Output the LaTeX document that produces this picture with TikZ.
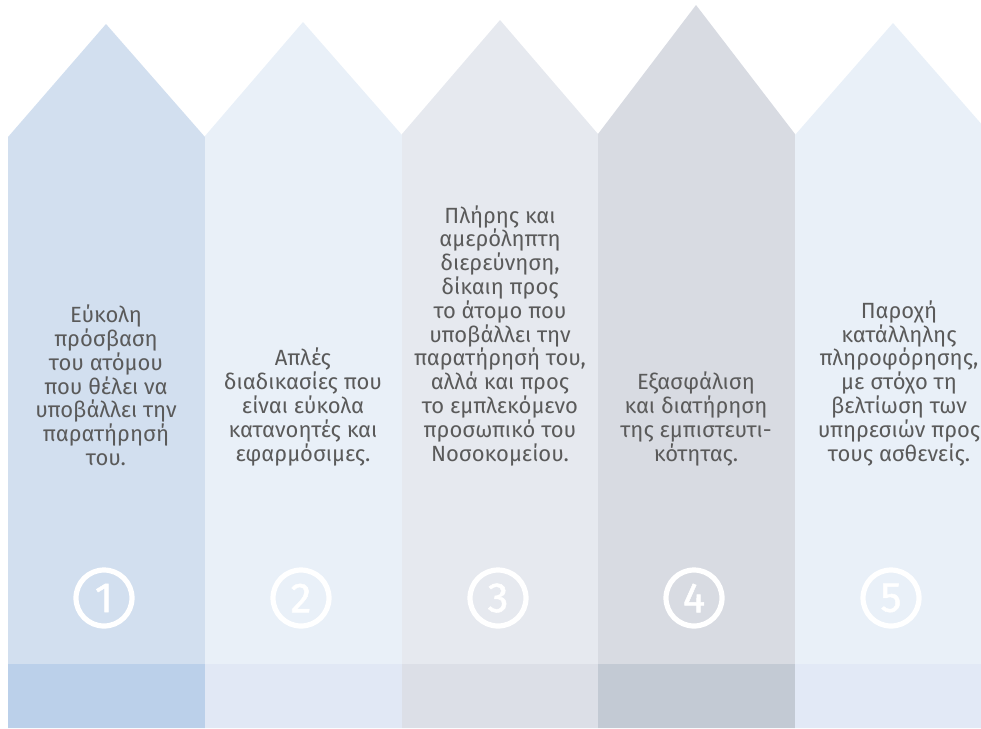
\documentclass[tikz,border=0pt]{standalone}
\usepackage{fontspec}
\setmainfont{Fira Sans}
\newfontfamily\numfont[FakeBold=1.2]{Fira Sans}
\usetikzlibrary{positioning}

\definecolor{colA}{HTML}{D2DFEF}
\definecolor{bandA}{HTML}{BBD0EA}
\definecolor{colB}{HTML}{E9F0F8}
\definecolor{bandB}{HTML}{E1E8F5}
\definecolor{colC}{HTML}{E6E9EF}
\definecolor{bandC}{HTML}{DCDFE7}
\definecolor{colD}{HTML}{D8DBE2}
\definecolor{bandD}{HTML}{C3CAD4}
\definecolor{colE}{HTML}{E9F0F8}
\definecolor{bandE}{HTML}{E2E9F6}
\definecolor{txtgrey}{HTML}{5A5A5A}

\tikzset{
    pointtext/.style={anchor=south, align=center, inner sep=0pt, text=txtgrey,
        font=\fontsize{22}{23.8}\selectfont},
    pointnum/.style={circle, draw=white, line width=5.2pt, minimum size=56pt, inner sep=0pt,
        text=white, font=\numfont\fontsize{42}{42}\selectfont}
}

\begin{document}
\begin{tikzpicture}[x=1pt,y=-1pt]
                \clip (0,0) rectangle (981,728);
                \begin{scope}[xshift=0pt]
                    \fill [colA] (8,728) -- (8,137) -- (106,24) -- (205,137) -- (205,728) -- cycle;
                    \fill [bandA] (8,664) rectangle (205,728);

                    \node [pointtext] (txt1) at (106,466) {Εύκολη\\πρόσβαση\\του ατόμου\\που θέλει να\\υποβάλλει την\\παρατήρησή\\του.};
                    \node [pointnum] (num1) at (104,598) {1};
                \end{scope}
                \begin{scope}[xshift=197pt]
                    \fill [colB] (8,728) -- (8,136) -- (106,22) -- (205,135) -- (205,728) -- cycle;
                    \fill [bandB] (8,664) rectangle (205,728);

                    \node [pointtext] (txt2) at (106,466) {Απλές\\διαδικασίες που\\είναι εύκολα\\κατανοητές και\\εφαρμόσιμες.};
                    \node [pointnum] (num2) at (104,598) {2};
                \end{scope}
                \begin{scope}[xshift=394pt]
                    \fill [colC] (8,728) -- (8,134) -- (106,20) -- (204,134) -- (204,728) -- cycle;
                    \fill [bandC] (8,664) rectangle (204,728);

                    \node [pointtext] (txt3) at (106,466) {Πλήρης και\\αμερόληπτη\\διερεύνηση,\\δίκαιη προς\\το άτομο που\\υποβάλλει την\\παρατήρησή του,\\αλλά και προς\\το εμπλεκόμενο\\προσωπικό του\\Νοσοκομείου.};
                    \node [pointnum] (num3) at (104,598) {3};
                \end{scope}
                \begin{scope}[xshift=590pt]
                    \fill [colD] (8,728) -- (8,134) -- (106,5) -- (205,134) -- (205,728) -- cycle;
                    \fill [bandD] (8,664) rectangle (205,728);

                    \node [pointtext] (txt4) at (106,466) {Εξασφάλιση\\και διατήρηση\\της εμπιστευτι-\\κότητας.};
                    \node [pointnum] (num4) at (104,598) {4};
                \end{scope}
                \begin{scope}[xshift=787pt]
                    \fill [colE] (8,728) -- (8,135) -- (106,23) -- (204,135) -- (204,728) -- cycle;
                    \fill [bandE] (8,664) rectangle (204,728);

                    \node [pointtext] (txt5) at (112,466) {Παροχή\\κατάλληλης\\πληροφόρησης,\\με στόχο τη\\βελτίωση των\\υπηρεσιών προς\\τους ασθενείς.};
                    \node [pointnum] (num5) at (104,598) {5};
                \end{scope}
            \end{tikzpicture}
\end{document}
